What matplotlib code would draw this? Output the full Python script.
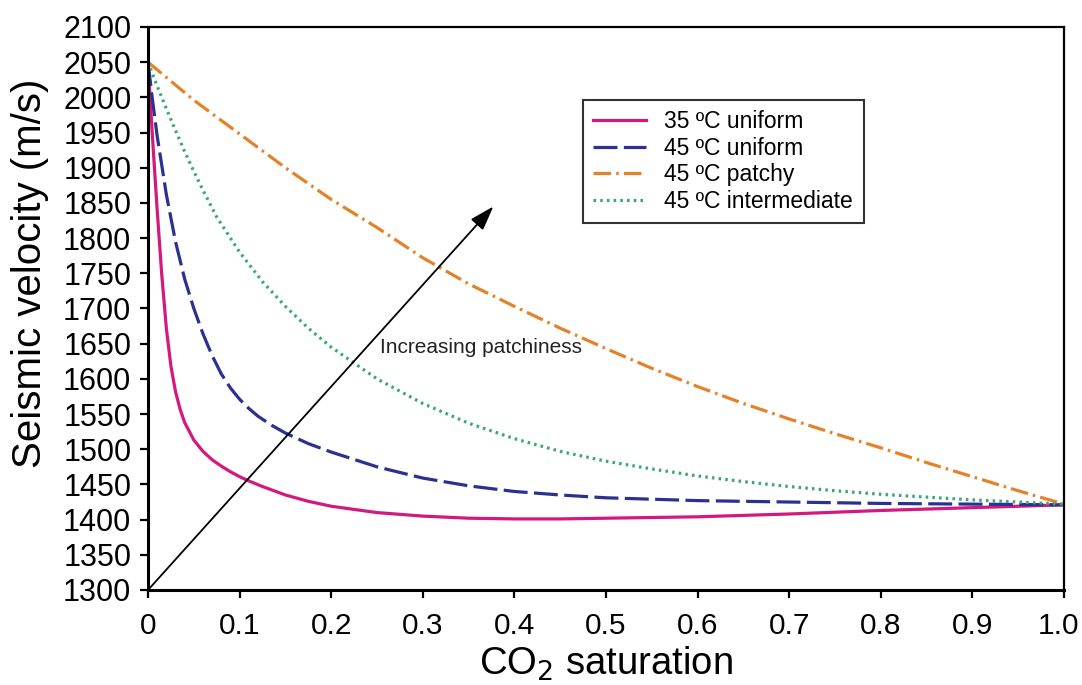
import matplotlib
matplotlib.use("Agg")
import matplotlib.pyplot as plt
from matplotlib.transforms import ScaledTranslation

plt.rcParams['font.family'] = ['Liberation Sans', 'DejaVu Sans']

# CO2 saturation sample points and read-off velocities (m/s)
x_pink = [0, 0.002, 0.004, 0.007, 0.01, 0.015, 0.02, 0.025, 0.03, 0.035, 0.04, 0.05,
          0.06, 0.07, 0.08, 0.09, 0.1, 0.11, 0.125, 0.15, 0.175, 0.2, 0.25, 0.3, 0.35,
          0.4, 0.45, 0.5, 0.6, 0.7, 0.8, 0.9, 1.0]
v_pink = [2050, 2005, 1962, 1900, 1840, 1748, 1672, 1618, 1582, 1557, 1538, 1513,
          1497, 1485, 1476, 1468, 1461, 1455, 1447, 1435, 1426, 1419, 1410, 1405, 1402,
          1401, 1401, 1402, 1404, 1408, 1413, 1417, 1421]

x_blue = [0, 0.005, 0.01, 0.02, 0.03, 0.04, 0.05, 0.06, 0.07, 0.08, 0.09, 0.1, 0.11,
          0.12, 0.135, 0.15, 0.175, 0.2, 0.25, 0.3, 0.35, 0.4, 0.45, 0.5, 0.6, 0.7,
          0.8, 0.9, 1.0]
v_blue = [2050, 1995, 1945, 1862, 1795, 1742, 1700, 1664, 1633, 1607, 1587, 1571, 1558,
          1547, 1534, 1523, 1508, 1496, 1475, 1459, 1448, 1440, 1435, 1431, 1427, 1425,
          1423, 1422, 1421]

x_orange = [0, 0.05, 0.1, 0.15, 0.2, 0.25, 0.3, 0.35, 0.4, 0.45, 0.5, 0.55, 0.6, 0.65,
            0.7, 0.75, 0.8, 0.85, 0.9, 0.95, 1.0]
v_orange = [2050, 1996, 1948, 1900, 1855, 1815, 1772, 1735, 1703, 1672, 1643, 1615, 1589,
            1565, 1543, 1522, 1502, 1481, 1461, 1441, 1422]

x_green = [0, 0.01, 0.02, 0.03, 0.04, 0.05, 0.06, 0.075, 0.1, 0.125, 0.15, 0.175, 0.2,
           0.25, 0.3, 0.35, 0.4, 0.45, 0.5, 0.55, 0.6, 0.65, 0.7, 0.75, 0.8, 0.85, 0.9,
           0.95, 1.0]
v_green = [2050, 2016, 1984, 1953, 1923, 1895, 1868, 1830, 1780, 1738, 1703, 1672, 1645,
           1600, 1565, 1537, 1515, 1497, 1483, 1472, 1462, 1454, 1447, 1441, 1436, 1432,
           1428, 1425, 1422]

labels = ["35 \u00baC uniform", "45 \u00baC uniform", "45 \u00baC patchy", "45 \u00baC intermediate"]
x_ticks = [0, 0.1, 0.2, 0.3, 0.4, 0.5, 0.6, 0.7, 0.8, 0.9, 1.0]
x_ticklabels = ["0", "0.1", "0.2", "0.3", "0.4", "0.5", "0.6", "0.7", "0.8", "0.9", "1.0"]
y_ticks = list(range(1300, 2101, 50))

fig = plt.figure(figsize=(10.82, 6.85), dpi=100)
ax = fig.add_axes([0.1368, 0.1387, 0.8466, 0.8219])

ax.plot(x_pink, v_pink, color='#D3197F', lw=2.3, ls='-', label=labels[0])
ax.plot(x_blue, v_blue, color='#2B3190', lw=2.3, ls=(0, (7.5, 2.0)), label=labels[1])
ax.plot(x_orange, v_orange, color='#E4822A', lw=2.3, ls=(0, (5.5, 1.6, 0.8, 1.6)), label=labels[2])
ax.plot(x_green, v_green, color='#3BA776', lw=2.3, ls=(0, (0.8, 1.3)), label=labels[3])

ax.annotate("", xy=(0.377, 1845), xytext=(0, 1300),
            arrowprops=dict(arrowstyle='-|>,head_length=1.0,head_width=0.33', color='black', lw=1.3,
                            mutation_scale=15, shrinkA=0, shrinkB=0))
ax.text(0.253, 1644, "Increasing patchiness", fontsize=15, va='center', ha='left', color='#222222')

ax.set_xlim(0, 1.0)
ax.set_ylim(1300, 2100)
ax.set_xticks(x_ticks)
ax.set_xticklabels(x_ticklabels)
ax.set_yticks(y_ticks)
ax.tick_params(axis='both', direction='out', length=6, width=1.6, labelsize=22, pad=6)
ax.tick_params(axis='x', pad=10, labelsize=21.5)
last = ax.get_xticklabels()[-1]
last.set_transform(last.get_transform() + ScaledTranslation(-4 / 72, 0, fig.dpi_scale_trans))
for s in ['left', 'bottom']:
    ax.spines[s].set_linewidth(2.2)
for s in ['top', 'right']:
    ax.spines[s].set_linewidth(1.6)

ax.set_xlabel("CO$_2$ saturation", fontsize=27.5)
ax.xaxis.set_label_coords(0.5, -0.098)
ax.set_ylabel("Seismic velocity (m/s)", fontsize=29)
ax.yaxis.set_label_coords(-0.108, 0.563)

leg = ax.legend(loc='upper left', bbox_to_anchor=(0.475, 0.870), borderaxespad=0,
                fontsize=16.5, frameon=True, fancybox=False, edgecolor='black',
                handlelength=2.3, borderpad=0.45, labelspacing=0.15, handletextpad=0.8)
leg.get_frame().set_linewidth(1.5)

fig.savefig("out.png", dpi=100)
